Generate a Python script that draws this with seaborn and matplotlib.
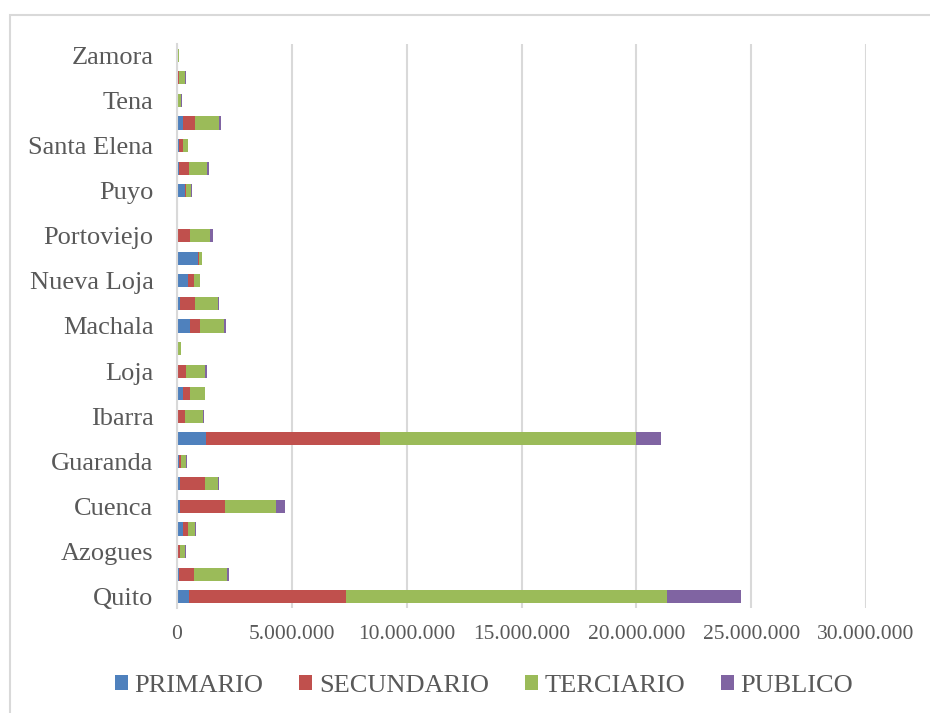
import matplotlib
matplotlib.use("Agg")
import matplotlib.pyplot as plt
from matplotlib.patches import Patch, Rectangle
from matplotlib.ticker import FuncFormatter
import seaborn as sns
import numpy as np
import pandas as pd

# Data (bottom -> top as in the reference)
cities = ["Quito", "Ambato", "Azogues", "Babahoyo", "Cuenca", "Esmeraldas",
          "Guaranda", "Guayaquil", "Ibarra", "Latacunga", "Loja", "Macas",
          "Machala", "Manta", "Nueva Loja", "Orellana", "Portoviejo",
          "Puerto Baquerizo", "Puyo", "Riobamba", "Santa Elena",
          "Santo Domingo", "Tena", "Tulcán", "Zamora"]
primario = [0.53e6, 0.10e6, 0.02e6, 0.25e6, 0.15e6, 0.13e6, 0.08e6, 1.28e6,
            0.01e6, 0.25e6, 0.01e6, 0.01e6, 0.57e6, 0.12e6, 0.47e6, 0.91e6,
            0.02e6, 0.01e6, 0.37e6, 0.09e6, 0.09e6, 0.25e6, 0.02e6, 0.03e6, 0.01e6]
secundario = [6.84e6, 0.63e6, 0.10e6, 0.22e6, 1.93e6, 1.07e6, 0.10e6, 7.57e6,
              0.33e6, 0.33e6, 0.40e6, 0.02e6, 0.45e6, 0.67e6, 0.25e6, 0.04e6,
              0.56e6, 0.005e6, 0.04e6, 0.42e6, 0.19e6, 0.55e6, 0.01e6, 0.06e6, 0.01e6]
terciario = [13.96e6, 1.44e6, 0.25e6, 0.33e6, 2.25e6, 0.60e6, 0.22e6, 11.15e6,
             0.79e6, 0.62e6, 0.80e6, 0.14e6, 1.03e6, 0.99e6, 0.26e6, 0.12e6,
             0.84e6, 0.02e6, 0.19e6, 0.81e6, 0.20e6, 1.03e6, 0.14e6, 0.26e6, 0.07e6]
publico = [3.22e6, 0.08e6, 0.01e6, 0.04e6, 0.39e6, 0.05e6, 0.03e6, 1.07e6,
           0.04e6, 0.03e6, 0.08e6, 0.02e6, 0.08e6, 0.06e6, 0.04e6, 0.03e6,
           0.14e6, 0.002e6, 0.04e6, 0.08e6, 0.02e6, 0.07e6, 0.03e6, 0.03e6, 0.01e6]
series_names = ["PRIMARIO", "SECUNDARIO", "TERCIARIO", "PUBLICO"]
colors = ["#4F81BD", "#C0504D", "#9BBB59", "#8064A2"]
xticks = [0, 5e6, 10e6, 15e6, 20e6, 25e6, 30e6]

sns.set_theme(style="white")
plt.rcParams["font.family"] = ["Liberation Serif", "DejaVu Serif"]
txt = "#595959"

df = pd.DataFrame({"city": cities, "PRIMARIO": primario, "SECUNDARIO": secundario,
                   "TERCIARIO": terciario, "PUBLICO": publico})
cum = df[series_names].cumsum(axis=1)

fig = plt.figure(figsize=(9.3, 7.13), dpi=100)
ax = fig.add_axes([177 / 930, 1 - 608 / 713, (866 - 177) / 930, (608 - 44) / 713])

order = cities[::-1]  # top first
for name, col in reversed(list(zip(series_names, colors))):
    sns.barplot(x=cum[name], y=df["city"], order=order, orient="h", color=col,
                width=0.58, linewidth=0, saturation=1, ax=ax)

ax.set_xlim(0, 30e6)
ax.set_ylim(24.5, -0.5)
ax.set_xticks(xticks)
ax.xaxis.set_major_formatter(FuncFormatter(lambda v, p: f"{int(v):,}".replace(",", ".")))
labels = [c if (cities.index(c) % 2 == 0) else "" for c in order]
ax.set_yticks(range(len(order)))
ax.set_yticklabels(labels)
ax.tick_params(axis="y", labelsize=19, colors=txt, length=0, pad=17)
ax.tick_params(axis="x", labelsize=15.5, colors=txt, length=0, pad=12)
ax.set_xlabel("")
ax.set_ylabel("")
ax.grid(axis="x", color="#D9D9D9", linewidth=1.5)
ax.grid(axis="y", visible=False)
ax.set_axisbelow(True)
for s in ["top", "right", "bottom"]:
    ax.spines[s].set_visible(False)
ax.spines["left"].set_color("#D9D9D9")
ax.spines["left"].set_linewidth(1.5)

handles = [Patch(facecolor=c, edgecolor="none") for c in colors]
fig.legend(handles, series_names, loc="center", bbox_to_anchor=(0.5205, 1 - 686 / 713),
           ncol=4, frameon=False, fontsize=19, handlelength=0.5, handleheight=0.5,
           handletextpad=0.25, columnspacing=1.35, labelcolor=txt)

fig.add_artist(Rectangle((10 / 930, -0.05), 1.2, 1 - 15 / 713 + 0.05,
                         transform=fig.transFigure, fill=False,
                         edgecolor="#D9D9D9", linewidth=1.5))

fig.savefig("out.png", dpi=100)
